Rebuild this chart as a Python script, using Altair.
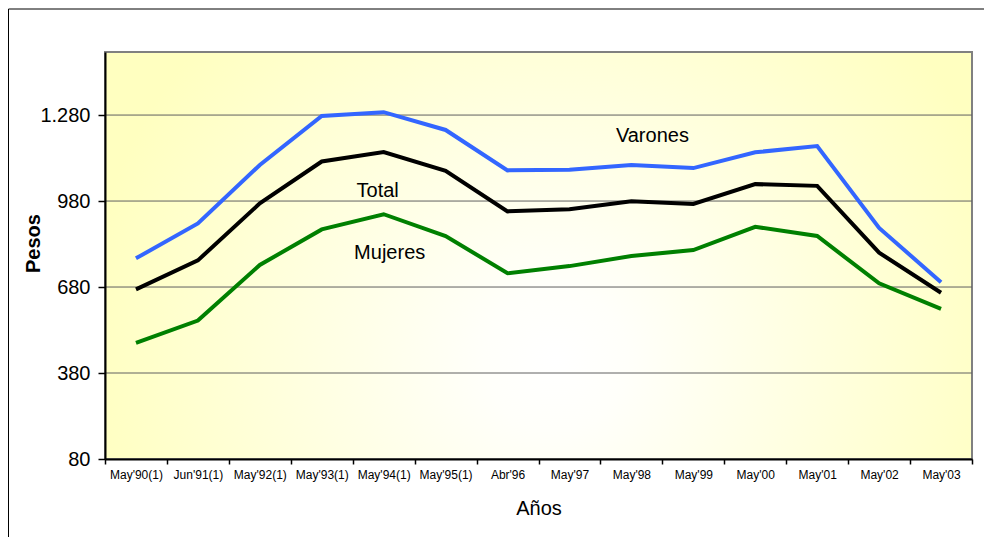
import altair as alt
import pandas as pd

categories = ["May'90(1)", "Jun'91(1)", "May'92(1)", "May'93(1)", "May'94(1)", "May'95(1)",
              "Abr'96", "May'97", "May'98", "May'99", "May'00", "May'01", "May'02", "May'03"]
varones = [780, 902, 1106, 1277, 1290, 1228, 1087, 1089, 1106, 1095, 1150, 1172, 886, 697]
total = [672, 773, 972, 1118, 1151, 1085, 944, 951, 979, 970, 1039, 1033, 800, 660]
mujeres = [485, 563, 757, 881, 934, 858, 728, 753, 788, 809, 890, 858, 693, 604]
series_names = ["Varones", "Total", "Mujeres"]
series_colors = ["#3366FF", "#000000", "#008000"]
y_ticks = [80, 380, 680, 980, 1280]
y_domain = [80, 1500]
label_text = ["Varones", "Total", "Mujeres"]
label_cat = ["May'98", "May'94(1)", "May'94(1)"]
label_val = [1207, 1015, 798]
label_dx = [21, -6, 6]

W, H = 867, 407
FONT = "Liberation Sans"

rows = []
for name, vals in zip(series_names, [varones, total, mujeres]):
    for c, v in zip(categories, vals):
        rows.append({"cat": c, "serie": name, "value": v})
df = pd.DataFrame(rows)

xscale = alt.Scale(type="band", domain=categories, paddingInner=0, paddingOuter=0)
yscale = alt.Scale(domain=y_domain, nice=False, zero=False)

x_axis = alt.Axis(title="Años", labelAngle=0, labelFont=FONT, labelFontSize=12, labelColor="black",
                  tickBand="extent", tickSize=5, tickColor="black", tickWidth=1.5,
                  domainColor="black", domainWidth=2, grid=False, labelPadding=5,
                  titleFont=FONT, titleFontSize=20, titleFontWeight="normal", titleColor="black",
                  titlePadding=18, zindex=1)
y_axis = alt.Axis(values=y_ticks, labelExpr="replace(format(datum.value, ',d'), ',', '.')",
                  labelFont=FONT, labelFontSize=20, labelColor="black", tickSize=7, tickColor="black",
                  tickWidth=1.5, labelPadding=8, domainColor="black", domainWidth=2, grid=False,
                  title="Pesos", titleFont=FONT, titleFontSize=20, titleFontWeight="bold",
                  titleColor="black", titleX=-72, titleY=191, titleBaseline="middle", zindex=1)

dummy = pd.DataFrame({"a": [0]})

frame = alt.Chart(dummy).mark_rect(fill="transparent", stroke="black", strokeWidth=1).encode(
    x=alt.value(-96.5), x2=alt.value(950), y=alt.value(-43), y2=alt.value(560))

bg = alt.Chart(dummy).mark_rect(
    fill=alt.RadialGradient(gradient="radial", x1=0.52, y1=0.62, x2=0.52, y2=0.62, r1=0, r2=0.55,
                            stops=[alt.GradientStop(offset=0, color="#FFFFFF"),
                                   alt.GradientStop(offset=0.15, color="#FFFFFA"),
                                   alt.GradientStop(offset=1, color="#FFFFC0")]),
    stroke="#808080", strokeWidth=2).encode(
    x=alt.value(0), x2=alt.value(W), y=alt.value(0), y2=alt.value(H))

grid = alt.Chart(pd.DataFrame({"v": y_ticks[1:]})).mark_rule(color="#606060", strokeWidth=1).encode(
    y=alt.Y("v:Q", scale=yscale, axis=y_axis))

lines = alt.Chart(df).mark_line(strokeWidth=4).encode(
    x=alt.X("cat:N", sort=categories, scale=xscale, axis=x_axis),
    y=alt.Y("value:Q", scale=yscale, axis=y_axis),
    color=alt.Color("serie:N", scale=alt.Scale(domain=series_names, range=series_colors), legend=None),
    detail="serie:N")

texts = []
for t, c, v, dx in zip(label_text, label_cat, label_val, label_dx):
    texts.append(alt.Chart(pd.DataFrame({"cat": [c], "v": [v], "t": [t]})).mark_text(
        font=FONT, fontSize=20, color="black", dx=dx, baseline="middle").encode(
        x=alt.X("cat:N", sort=categories, scale=xscale, axis=x_axis),
        y=alt.Y("v:Q", scale=yscale, axis=y_axis),
        text="t:N"))

chart = alt.layer(frame, bg, grid, lines, *texts).properties(
    width=W, height=H,
    padding={"left": 97, "top": 44, "right": 12, "bottom": 78},
    autosize=alt.AutoSizeParams(type="none"),
    background="white",
).configure_view(strokeWidth=0).configure(font=FONT)

chart.save("out.html", embed_options={"renderer": "svg", "actions": False})
